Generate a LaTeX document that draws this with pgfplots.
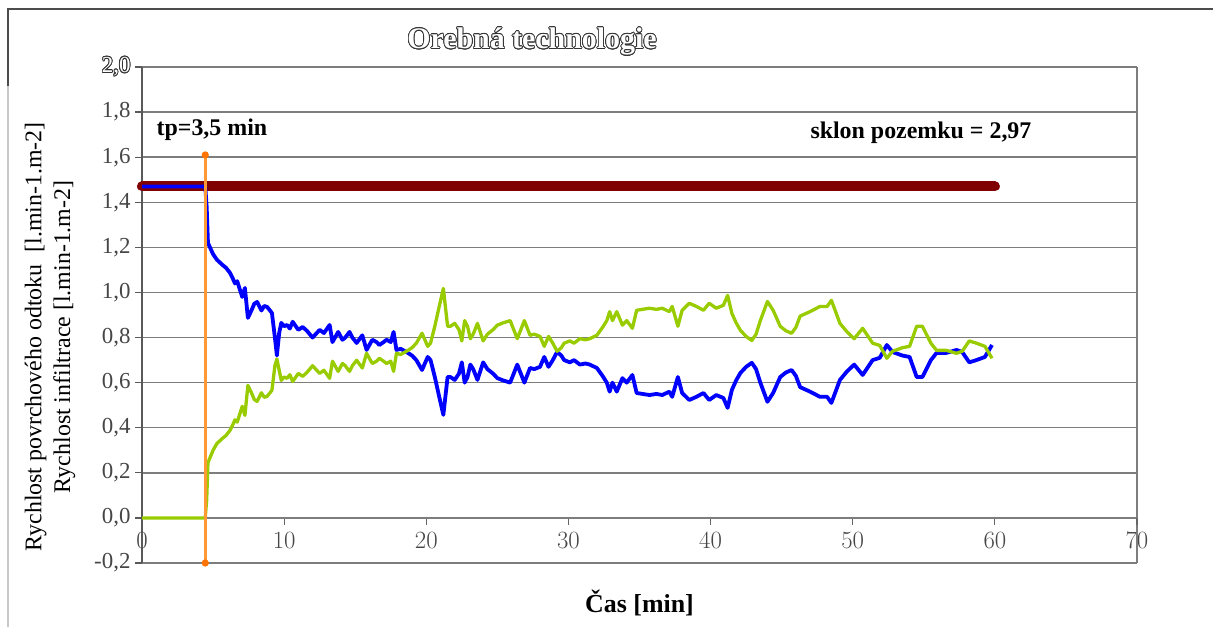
\documentclass[border=0pt]{standalone}
\usepackage{fontspec}
\setmainfont{Liberation Serif}
\usepackage{pgfplots}
\usepackage{pgfplotstable}
\pgfplotsset{compat=1.18}
\usepackage{contour}
\contourlength{0.8bp}

\definecolor{rainred}{RGB}{128,0,0}
\definecolor{runoffblue}{RGB}{0,0,255}
\definecolor{infgreen}{RGB}{153,204,0}
\definecolor{tporange}{RGB}{255,153,51}
\definecolor{gridgray}{RGB}{125,125,125}
\definecolor{ticktext}{RGB}{70,70,70}

\newcommand{\hollow}[1]{\contour{black!80}{\textcolor{white}{#1}}}

% time [min], surface runoff rate, infiltration rate  [l/min/m2]
\pgfplotstableread{
t     q      inf
0     1.470  0
4.45  1.470  0
4.55  1.380  0.080
4.64  1.220  0.245
5.00  1.170  0.300
5.27  1.145  0.330
5.70  1.120  0.355
5.90  1.110  0.365
6.19  1.087  0.388
6.40  1.060  0.415
6.54  1.040  0.435
6.70  1.050  0.425
6.90  1.010  0.465
7.05  0.980  0.495
7.24  1.020  0.455
7.45  0.887  0.588
7.70  0.920  0.555
7.90  0.950  0.525
8.10  0.958  0.517
8.40  0.920  0.555
8.60  0.940  0.535
8.80  0.936  0.539
9.14  0.909  0.566
9.35  0.800  0.675
9.49  0.720  0.705
9.65  0.820  0.655
9.80  0.865  0.610
10.0  0.850  0.625
10.2  0.856  0.619
10.4  0.840  0.635
10.6  0.870  0.605
11.0  0.834  0.641
11.3  0.847  0.628
11.6  0.830  0.645
12.0  0.800  0.675
12.5  0.834  0.641
12.8  0.820  0.655
13.2  0.856  0.619
13.4  0.780  0.695
13.8  0.825  0.650
14.1  0.790  0.685
14.3  0.800  0.675
14.6  0.825  0.650
14.8  0.800  0.675
15.1  0.776  0.699
15.5  0.810  0.665
15.8  0.745  0.730
16.2  0.790  0.685
16.5  0.780  0.695
16.7  0.767  0.708
17.0  0.780  0.695
17.2  0.790  0.685
17.5  0.780  0.695
17.7  0.825  0.650
17.9  0.745  0.730
18.2  0.750  0.725
18.6  0.736  0.739
19.0  0.720  0.755
19.3  0.700  0.775
19.7  0.656  0.819
20.1  0.714  0.761
20.3  0.700  0.775
20.6  0.625  0.850
20.9  0.540  0.935
21.2  0.457  1.018
21.5  0.625  0.850
21.7  0.625  0.850
22.0  0.612  0.863
22.3  0.640  0.835
22.5  0.690  0.785
22.7  0.600  0.875
22.9  0.625  0.850
23.1  0.680  0.795
23.3  0.660  0.815
23.6  0.612  0.863
24.0  0.690  0.785
24.3  0.660  0.815
24.7  0.640  0.835
25.0  0.620  0.855
25.4  0.610  0.865
25.9  0.600  0.875
26.4  0.680  0.795
26.9  0.600  0.875
27.3  0.665  0.810
27.6  0.660  0.815
28.0  0.670  0.805
28.3  0.714  0.761
28.6  0.670  0.805
28.9  0.700  0.775
29.2  0.736  0.739
29.5  0.720  0.755
29.7  0.700  0.775
30.1  0.690  0.785
30.4  0.700  0.775
30.8  0.680  0.795
31.2  0.685  0.790
31.5  0.680  0.795
32.0  0.665  0.810
32.4  0.630  0.845
32.7  0.600  0.875
32.9  0.560  0.915
33.1  0.600  0.875
33.4  0.560  0.915
33.8  0.620  0.855
34.1  0.600  0.875
34.5  0.634  0.841
34.8  0.554  0.921
35.2  0.550  0.925
35.7  0.545  0.930
36.2  0.550  0.925
36.6  0.545  0.930
37.1  0.560  0.915
37.3  0.537  0.938
37.7  0.625  0.850
38.0  0.554  0.921
38.5  0.523  0.952
39.0  0.537  0.938
39.5  0.554  0.921
39.9  0.523  0.952
40.4  0.545  0.930
40.9  0.532  0.943
41.2  0.488  0.987
41.5  0.568  0.907
41.8  0.610  0.865
42.1  0.643  0.832
42.5  0.670  0.805
42.9  0.688  0.787
43.2  0.660  0.815
43.5  0.600  0.875
44.0  0.515  0.960
44.4  0.554  0.921
44.9  0.625  0.850
45.3  0.645  0.830
45.7  0.656  0.819
46.0  0.630  0.845
46.3  0.580  0.895
47.0  0.560  0.915
47.7  0.537  0.938
48.2  0.537  0.938
48.5  0.510  0.965
49.1  0.612  0.863
49.6  0.650  0.825
50.1  0.680  0.795
50.7  0.634  0.841
51.4  0.700  0.775
51.9  0.710  0.765
52.4  0.767  0.708
52.8  0.736  0.739
53.5  0.720  0.755
54.0  0.714  0.761
54.5  0.625  0.850
54.9  0.625  0.850
55.5  0.700  0.775
55.9  0.732  0.743
56.6  0.732  0.743
57.3  0.745  0.730
57.7  0.736  0.739
58.2  0.690  0.785
58.7  0.700  0.775
59.3  0.714  0.761
59.8  0.767  0.708
}\rates

\begin{document}
\begin{tikzpicture}
\useasboundingbox (0,0) rectangle (1213bp,627bp);
% outer frame
\draw[black!70, line width=1.5bp] (8bp,541bp) -- (8bp,618bp) -- (1213bp,618bp);
\draw[black!22, line width=1.5bp] (8bp,0bp) -- (8bp,541bp);

\begin{axis}[
  at={(142bp,64bp)}, anchor=south west,
  scale only axis, width=995bp, height=496bp,
  xmin=0, xmax=70, ymin=-0.2, ymax=2.0,
  axis x line=middle, axis y line=left,
  axis line style={-},
  every inner x axis line/.append style={-, gridgray, line width=1.5bp},
  every outer y axis line/.append style={-, black!65, line width=1.5bp},
  hide obscured x ticks=false, hide obscured y ticks=false,
  clip=false,
  xtick={0,10,20,30,40,50,60,70},
  ytick={-0.2,0,0.2,0.4,0.6,0.8,1.0,1.2,1.4,1.6,1.8,2.0},
  yticklabels={{-0,2},{0,0},{0,2},{0,4},{0,6},{0,8},{1,0},{1,2},{1,4},{1,6},{1,8},{\hollow{2,0}}},
  extra x ticks={70}, extra x tick labels={},
  extra x tick style={grid=major},
  ymajorgrids,
  major grid style={gridgray, line width=1.5bp},
  tick align=outside,
  xtick align=outside,
  major tick length=7bp,
  tick style={black!65, line width=1.2bp},
  x tick style={black!60, line width=1.2bp},
  ticklabel style={font=\fontsize{23}{27}\selectfont, text=ticktext},
  xticklabel style={yshift=-4bp},
  yticklabel style={xshift=-1bp},
  xlabel={\textbf{Čas [min]}},
  every axis x label/.style={at={(rel axis cs:0.5,0)}, anchor=center, yshift=-40bp,
    font=\fontsize{26}{30}\selectfont},
  ylabel={Rychlost povrchového odtoku\ \ [l.min-1.m-2]\\Rychlost infiltrace [l.min-1.m-2]},
  every axis y label/.style={at={(axis description cs:-0.0925,0.456)}, rotate=90,
    anchor=center, align=center, font=\fontsize{24}{29}\selectfont},
]
% rainfall intensity
\addplot[rainred, line width=10bp, line cap=round] coordinates {(0,1.47) (60,1.47)};
% surface runoff
\addplot[runoffblue, line width=3.8bp, line join=round] table[x=t, y=q] {\rates};
% infiltration
\addplot[infgreen, line width=3.3bp, line join=round] table[x=t, y=inf] {\rates};
% time to ponding
\addplot[tporange, line width=3bp, mark=*, mark size=2bp,
  mark options={fill=orange!90!red, draw=orange!90!red}] coordinates {(4.45,-0.2) (4.45,1.61)};

\node[font=\bfseries\fontsize{24}{28}\selectfont] at (axis cs:4.92,1.72) {tp=3,5 min};
\node[font=\bfseries\fontsize{24}{28}\selectfont] at (axis cs:54.8,1.71) {sklon pozemku = 2,97};
\end{axis}

\node[font=\bfseries\fontsize{30}{34}\selectfont] at (532bp,585bp) {\hollow{Orebná technologie}};
\end{tikzpicture}
\end{document}
